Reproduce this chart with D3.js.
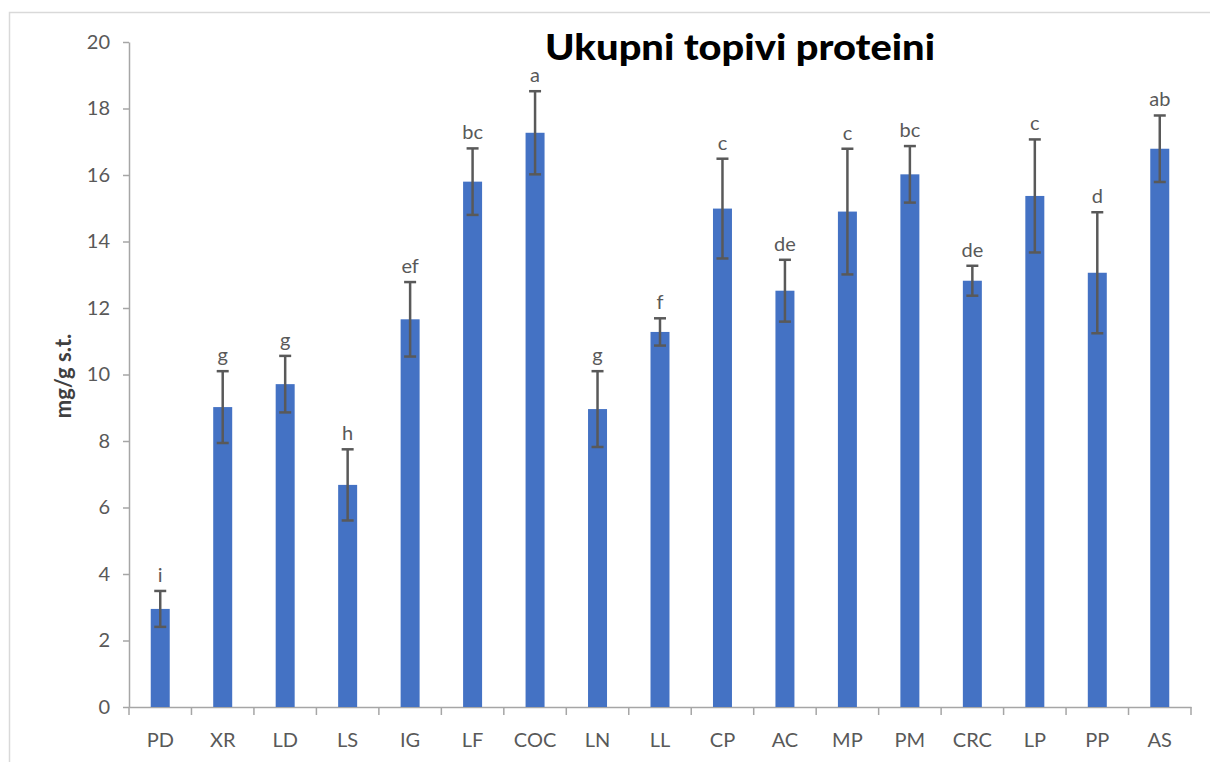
<!DOCTYPE html>
<html>
<head>
<meta charset="utf-8">
<script src="https://cdn.jsdelivr.net/npm/d3@7"></script>
<style>
    body { margin: 0; background: #fff; overflow: hidden; }
    svg { display: block; font-family: Lato, "Open Sans", sans-serif; }
</style>
</head>
<body>
<svg id="chart" width="1210" height="762"></svg>
<script>
// Chart data
const categories = ["PD", "XR", "LD", "LS", "IG", "LF", "COC", "LN", "LL",
    "CP", "AC", "MP", "PM", "CRC", "LP", "PP", "AS"];
const means = [2.95, 9.02, 9.71, 6.68, 11.66, 15.80, 17.27, 8.96, 11.28,
    14.99, 12.52, 14.90, 16.02, 12.82, 15.37, 13.06, 16.79];
const errors = [0.54, 1.08, 0.85, 1.07, 1.12, 1.00, 1.25, 1.14, 0.41,
    1.50, 0.93, 1.89, 0.85, 0.45, 1.70, 1.82, 1.00];
const letters = ["i", "g", "g", "h", "ef", "bc", "a", "g", "f",
    "c", "de", "c", "bc", "de", "c", "d", "ab"];
const yTicks = [0, 2, 4, 6, 8, 10, 12, 14, 16, 18, 20];
const title = "Ukupni topivi proteini";
const yLabel = "mg/g s.t.";

const svg = d3.select("#chart");

// Light chart-area border: only top and left edges fall inside the picture
svg.append("path")
    .attr("d", "M9.5,762V12.5H1210")
    .attr("fill", "none")
    .attr("stroke", "#d9d9d9")
    .attr("stroke-width", 1.5);

// Scales
const x = d3.scaleBand()
    .domain(categories)
    .range([129, 1191])
    .paddingInner(0.696)
    .paddingOuter(0.348);

const y = d3.scaleLinear()
    .domain([0, 20])
    .range([707, 42]);

const axisColor = "#a6a6a6";
const textColor = "#595959";

// Y axis
const yAxis = svg.append("g")
    .attr("transform", `translate(${x.range()[0]},0)`)
    .call(d3.axisLeft(y).tickValues(yTicks).tickSize(6).tickSizeOuter(0).tickPadding(13));
yAxis.select(".domain").attr("stroke", axisColor).attr("stroke-width", 1.5);
yAxis.selectAll(".tick line").attr("stroke", axisColor).attr("stroke-width", 1.5);
yAxis.selectAll(".tick text")
    .attr("fill", textColor)
    .style("font-size", "20px")
    .style("font-family", "Lato, sans-serif");

// X axis: labels centred on bands, ticks on band boundaries
const xAxis = svg.append("g")
    .attr("transform", `translate(0,${y(0)})`)
    .call(d3.axisBottom(x).tickSize(0).tickSizeOuter(0).tickPadding(26));
xAxis.select(".domain").attr("stroke", axisColor).attr("stroke-width", 1.5);
xAxis.selectAll(".tick text")
    .attr("fill", textColor)
    .style("font-size", "20px")
    .style("font-family", "Lato, sans-serif");

const half = (x.step() - x.bandwidth()) / 2;
const boundaries = categories.map((c) => x(c) - half).concat([x.range()[1]]);
xAxis.selectAll(".bound")
    .data(boundaries)
    .enter()
    .append("line")
    .attr("class", "bound")
    .attr("x1", (d) => d).attr("x2", (d) => d)
    .attr("y1", 0).attr("y2", 8)
    .attr("stroke", axisColor)
    .attr("stroke-width", 1.5);

// Bars
const rows = categories.map((c, i) => ({
    cat: c, mean: means[i], err: errors[i], letter: letters[i]
}));

svg.append("g")
    .selectAll("rect")
    .data(rows)
    .enter()
    .append("rect")
    .attr("x", (d) => x(d.cat))
    .attr("y", (d) => y(d.mean))
    .attr("width", x.bandwidth())
    .attr("height", (d) => y(0) - y(d.mean))
    .attr("fill", "#4472c4");

// Error bars
const errG = svg.append("g")
    .attr("stroke", "#595959")
    .attr("stroke-width", 2.5);
const cx = (d) => x(d.cat) + x.bandwidth() / 2;
errG.selectAll(".stem")
    .data(rows)
    .enter()
    .append("line")
    .attr("x1", cx).attr("x2", cx)
    .attr("y1", (d) => y(d.mean + d.err))
    .attr("y2", (d) => y(d.mean - d.err));
["top", "bottom"].forEach((side) => {
    errG.selectAll(`.cap-${side}`)
        .data(rows)
        .enter()
        .append("line")
        .attr("x1", (d) => cx(d) - 6).attr("x2", (d) => cx(d) + 6)
        .attr("y1", (d) => y(side === "top" ? d.mean + d.err : d.mean - d.err))
        .attr("y2", (d) => y(side === "top" ? d.mean + d.err : d.mean - d.err));
});

// Significance letters above error bars
svg.append("g")
    .selectAll("text")
    .data(rows)
    .enter()
    .append("text")
    .attr("x", cx)
    .attr("y", (d) => y(d.mean + d.err) - 9)
    .attr("text-anchor", "middle")
    .attr("fill", textColor)
    .style("font-size", "20px")
    .text((d) => d.letter);

// Title
svg.append("text")
    .attr("x", 740)
    .attr("y", 60)
    .attr("text-anchor", "middle")
    .attr("fill", "#000")
    .style("font-size", "36px")
    .style("font-weight", "900")
    .attr("textLength", 390)
    .attr("lengthAdjust", "spacingAndGlyphs")
    .text(title);

// Y axis title
svg.append("text")
    .attr("transform", "translate(71,376) rotate(-90)")
    .attr("text-anchor", "middle")
    .attr("fill", "#404040")
    .style("font-size", "22px")
    .style("font-weight", "bold")
    .text(yLabel);
</script>
</body>
</html>
